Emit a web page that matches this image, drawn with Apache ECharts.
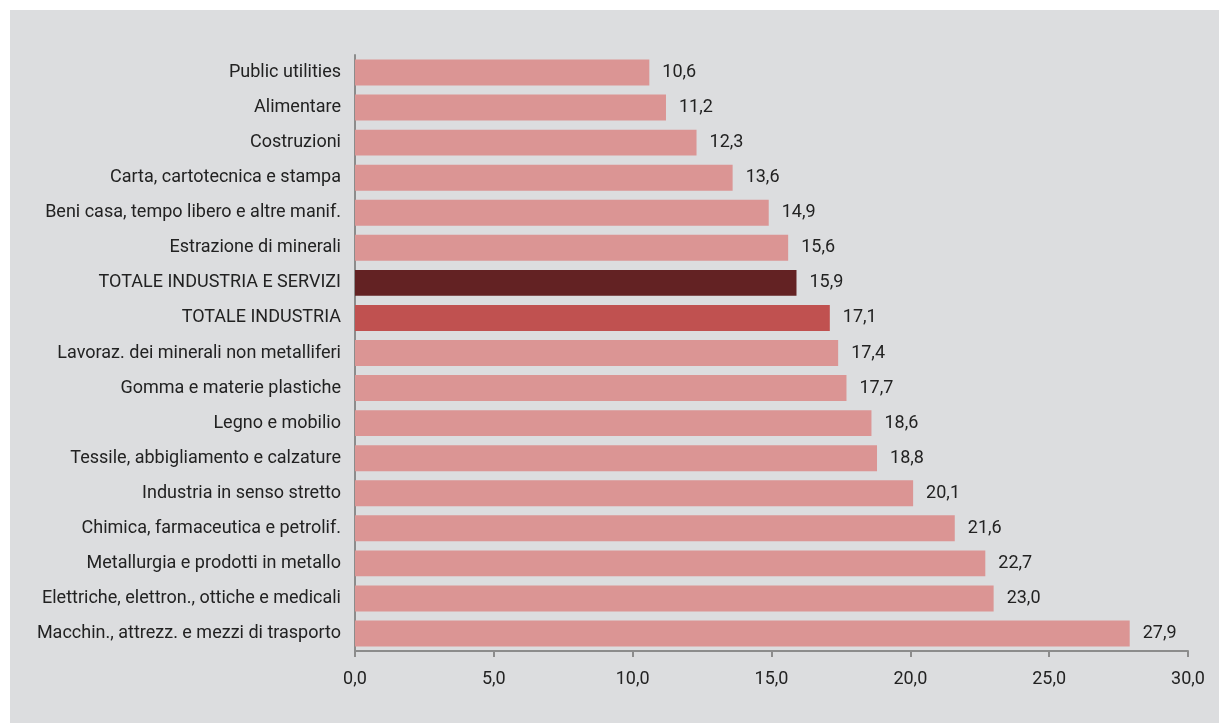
<!DOCTYPE html>
<html><head><meta charset="utf-8">
<script src="https://cdn.jsdelivr.net/npm/echarts@6/dist/echarts.min.js"></script>
<style>
html,body{margin:0;padding:0;background:#ffffff;}
#chart{position:absolute;left:10px;top:10px;width:1209px;height:713px;background:#dcdddf;}
</style></head>
<body><div id="chart"></div>
<script>
const categories = [
  "Public utilities",
  "Alimentare",
  "Costruzioni",
  "Carta, cartotecnica e stampa",
  "Beni casa, tempo libero e altre manif.",
  "Estrazione di minerali",
  "TOTALE INDUSTRIA E SERVIZI",
  "TOTALE INDUSTRIA",
  "Lavoraz. dei minerali non metalliferi",
  "Gomma e materie plastiche",
  "Legno e mobilio",
  "Tessile, abbigliamento e calzature",
  "Industria in senso stretto",
  "Chimica, farmaceutica e petrolif.",
  "Metallurgia e prodotti in metallo",
  "Elettriche, elettron., ottiche e medicali",
  "Macchin., attrezz. e mezzi di trasporto"
];
const values = [10.6, 11.2, 12.3, 13.6, 14.9, 15.6, 15.9, 17.1, 17.4, 17.7, 18.6, 18.8, 20.1, 21.6, 22.7, 23.0, 27.9];
const highlight = {"TOTALE INDUSTRIA E SERVIZI": "#632223", "TOTALE INDUSTRIA": "#c05150"};
const baseColor = "#db9594";
const font = "Roboto";

const chart = echarts.init(document.getElementById('chart'));
chart.setOption({
  backgroundColor: 'transparent',
  animation: false,
  grid: {left: 345, right: 31, top: 45, bottom: 72, containLabel: false},
  xAxis: {
    type: 'value', min: 0, max: 30, interval: 5,
    axisLine: {show: true, lineStyle: {color: '#8c8c8c', width: 2}},
    axisTick: {show: true, length: 6, lineStyle: {color: '#8c8c8c', width: 2}},
    splitLine: {show: false},
    axisLabel: {color: '#222', fontSize: 18, fontFamily: font, margin: 19,
      formatter: v => v.toFixed(1).replace('.', ',')}
  },
  yAxis: {
    type: 'category', data: categories, inverse: true,
    axisLine: {show: true, lineStyle: {color: '#8c8c8c', width: 2}},
    axisTick: {show: false},
    axisLabel: {color: '#222', fontSize: 18, fontFamily: font, margin: 14}
  },
  series: [{
    type: 'bar',
    data: values.map((v, i) => ({value: v, itemStyle: {color: highlight[categories[i]] || baseColor}})),
    barCategoryGap: '26%',
    label: {show: true, position: 'right', distance: 13, color: '#222', fontSize: 18, fontFamily: font,
      formatter: p => p.value.toFixed(1).replace('.', ',')}
  }]
});
</script></body></html>
